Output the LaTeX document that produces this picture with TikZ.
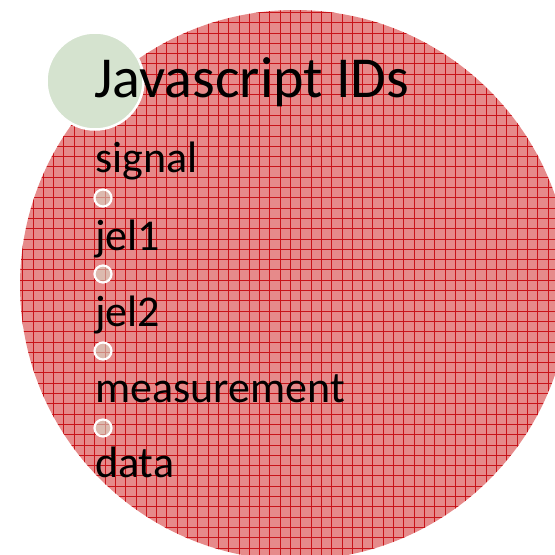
\documentclass[tikz,border=0pt]{standalone}
\usepackage{fontspec}
\setmainfont{Carlito}
\definecolor{redfill}{RGB}{230,138,138}
\definecolor{gridred}{RGB}{200,20,25}
\definecolor{sage}{RGB}{213,227,207}
\begin{document}
\begin{tikzpicture}[x=1pt,y=-1pt,
  itemtext/.style={anchor=base west, inner sep=0pt, font=\fontsize{44}{44}\selectfont},
  titletext/.style={anchor=base west, inner sep=0pt, font=\fontsize{58}{58}\selectfont},
  bulletdot/.style={circle, minimum size=17pt, inner sep=0pt, draw=white, line width=2.2pt, fill=sage, fill opacity=0.55},
  gridline/.style={gridred, line width=0.7pt}]
\useasboundingbox (0,0) rectangle (555,555);
\node[circle, minimum size=550pt, inner sep=0pt, fill=redfill] (big) at (295,285) {};
\begin{scope}
  \clip (295,285) circle [radius=275pt];
  \foreach \i in {0,...,55} {
    \draw[gridline] (\i*10.3+2, 0) -- (\i*10.3+2, 560);
    \draw[gridline] (0, \i*10.3+2) -- (560, \i*10.3+2);
  }
\end{scope}
\node[circle, minimum size=97pt, inner sep=0pt, fill=sage, draw=white, line width=2.5pt] (green) at (95,81) {};
\node[titletext] (title) at (94,97) {Javascript IDs};
\node[itemtext] (signal) at (95,172) {signal};
\node[bulletdot] (b1) at (103,198) {};
\node[itemtext] (jelone) at (95,250) {jel1};
\node[bulletdot] (b2) at (103,274) {};
\node[itemtext] (jeltwo) at (95,326) {jel2};
\node[bulletdot] (b3) at (103,351) {};
\node[itemtext] (meas) at (95,402) {measurement};
\node[bulletdot] (b4) at (103,428) {};
\node[itemtext] (data) at (95,477) {data};
\end{tikzpicture}
\end{document}
